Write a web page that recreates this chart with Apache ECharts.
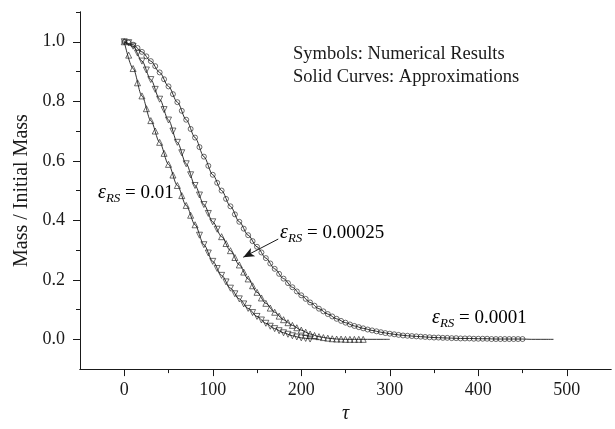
<!DOCTYPE html>
<html><head><meta charset="utf-8">
<script src="https://cdn.jsdelivr.net/npm/echarts@6/dist/echarts.min.js"></script>
<style>html,body{margin:0;padding:0;background:#fff}#c{width:615px;height:429px}</style>
</head><body><div id="c"></div>
<script>
// ---- data ----
const tauSym = [0,5,10,15,20,25,30,35,40,45,50,55,60,65,70,75,80,85,90,95,100,105,110,115,120,125,130,135,140,145,150,155,160,165,170,175,180,185,190,195,200,205,210,215,220,225,230,235,240,245,250,255,260,265,270,275,280,285,290,295,300,305,310,315,320,325,330,335,340,345,350,355,360,365,370,375,380,385,390,395,400,405,410,415,420,425,430,435,440,445,450];
// numerical results, eps_RS = 0.01 (triangles)
const symA = [1.0,0.955,0.91,0.862,0.818,0.775,0.735,0.7,0.662,0.625,0.588,0.552,0.517,0.483,0.45,0.417,0.385,0.35,0.318,0.29,0.262,0.238,0.215,0.193,0.172,0.153,0.136,0.119,0.104,0.09,0.077,0.065,0.054,0.044,0.036,0.029,0.022,0.017,0.012,0.008,0.005,0.003,0.001];
// numerical results, eps_RS = 0.00025 (triangles)
const symB = [1.0,0.997,0.985,0.962,0.935,0.905,0.873,0.84,0.807,0.772,0.737,0.7,0.662,0.627,0.59,0.553,0.517,0.485,0.453,0.423,0.395,0.37,0.345,0.322,0.298,0.275,0.25,0.226,0.203,0.18,0.158,0.139,0.121,0.105,0.091,0.078,0.066,0.056,0.047,0.039,0.031,0.024,0.018,0.013,0.009,0.006,0.004,0.002,0.001,0.001,0,0,0,0,0];
// numerical results, eps_RS = 0.0001 (circles)
const symC = [1.0,0.997,0.99,0.979,0.966,0.951,0.935,0.918,0.897,0.874,0.85,0.824,0.797,0.768,0.738,0.707,0.678,0.646,0.614,0.583,0.553,0.526,0.5,0.472,0.447,0.42,0.395,0.372,0.35,0.33,0.311,0.292,0.273,0.255,0.237,0.22,0.204,0.189,0.175,0.161,0.148,0.136,0.124,0.113,0.103,0.094,0.085,0.077,0.069,0.062,0.056,0.05,0.045,0.041,0.037,0.033,0.03,0.027,0.024,0.021,0.019,0.017,0.015,0.013,0.012,0.011,0.01,0.009,0.008,0.007,0.006,0.006,0.005,0.005,0.004,0.004,0.003,0.003,0.003,0.002,0.002,0.002,0.002,0.001,0.001,0.001,0.001,0.001,0.001,0.001,0.001];
// approximation curves
const tauLine = [0,10,20,30,40,50,60,70,80,90,100,110,120,130,140,150,160,170,180,190,200,210,220,230,240,250,260,270,280,290,300,310,320,330,340,350,360,370,380,390,400,410,420,430,440,450,460,470,485];
const lineA = [1.0,0.91,0.818,0.735,0.662,0.588,0.517,0.45,0.385,0.318,0.262,0.215,0.172,0.136,0.104,0.077,0.054,0.036,0.022,0.012,0.005,0.002,0.0];
const lineB = [1.0,0.985,0.935,0.873,0.807,0.737,0.662,0.59,0.517,0.453,0.395,0.345,0.298,0.25,0.203,0.158,0.121,0.091,0.066,0.047,0.031,0.018,0.009,0.004,0.001,0,0,0,0,0,0];
const lineC = [1.0,0.99,0.966,0.935,0.897,0.85,0.797,0.738,0.678,0.614,0.553,0.5,0.447,0.395,0.35,0.311,0.273,0.237,0.204,0.175,0.148,0.124,0.103,0.085,0.069,0.056,0.045,0.037,0.03,0.024,0.019,0.015,0.012,0.01,0.008,0.006,0.005,0.004,0.003,0.003,0.002,0.002,0.001,0.001,0.001,0.001,0,0,0];
// axis ticks
const xMajor = [0,100,200,300,400,500];
const xMinor = [50,150,250,350,450];
const yMajor = [0,0.2,0.4,0.6,0.8,1.0];
const yMinor = [0.1,0.3,0.5,0.7,0.9,1.1];
// arrow (data coords): tail -> tip
const arrowTail = [174, 0.337];
const arrowTip = [134.5, 0.276];

// ---- drawing ----
const FONT = '"Liberation Serif", "Times New Roman", serif';
const INK = '#1a1a1a';
function pairs(t, v){ return v.map((y,i)=>[t[i], y]); }
function triItems(t, v, upHigh){
  return v.map((y,i)=>({value:[t[i], y], symbolRotate: ((y > 0.35) === upHigh) ? 0 : 180}));
}
const chart = echarts.init(document.getElementById('c'), null, {renderer:'canvas'});
const baseLabel = {fontFamily: FONT, fontSize: 18, color: INK};
function xAx(ticks, len, labels){
  return {type:'value', min:-50, max:550, interval:50, position:'bottom', gridIndex:0,
    axisLine:{show:true, onZero:false, lineStyle:{color:INK, width:1}},
    axisTick:{show:true, customValues:ticks, length:len, lineStyle:{color:INK, width:1}},
    axisLabel:labels ? Object.assign({customValues:ticks, margin:12, formatter:v=>String(v)}, baseLabel) : {show:false},
    splitLine:{show:false}};
}
function yAx(ticks, len, labels){
  return {type:'value', min:-0.1, max:1.1, interval:0.1, position:'left', gridIndex:0,
    axisLine:{show:true, onZero:false, lineStyle:{color:INK, width:1}},
    axisTick:{show:true, customValues:ticks, length:len, lineStyle:{color:INK, width:1}},
    axisLabel:labels ? Object.assign({customValues:ticks, margin:15, formatter:v=>v.toFixed(1)}, baseLabel) : {show:false},
    splitLine:{show:false}};
}
const xMain = xAx(xMajor, 7, true);
xMain.name = 'τ'; xMain.nameLocation = 'middle'; xMain.nameGap = 30;
xMain.nameTextStyle = {fontFamily: FONT, fontSize: 20, fontStyle:'italic', color: INK};
const yMain = yAx(yMajor, 7, true);
yMain.name = 'Mass / Initial Mass'; yMain.nameLocation = 'middle'; yMain.nameGap = 47;
yMain.nameTextStyle = {fontFamily: FONT, fontSize: 20, color: INK};

const lineStyle = {color: INK, width: 0.9};
const mk = {color:'rgba(0,0,0,0)', borderColor: INK, borderWidth: 0.8};
function lineSeries(t, v, extra){
  return Object.assign({type:'line', data: pairs(t, v), showSymbol:false, symbol:'none',
    smooth:0.3, smoothMonotone:'x', lineStyle: lineStyle, silent:true, z:2}, extra||{});
}
const rich = {
  e:{fontFamily:FONT, fontSize:20, fontStyle:'italic', color:INK},
  s:{fontFamily:FONT, fontSize:13, fontStyle:'italic', color:INK, padding:[11,0,0,0]},
  n:{fontFamily:FONT, fontSize:19, color:INK}
};
function epsLabel(x, y, val){
  return {type:'text', x:x, y:y, silent:true,
    style:{text:'{e|ε}{s|RS}{n| = ' + val + '}', rich:rich, align:'left', verticalAlign:'middle'}};
}
chart.setOption({
  animation:false,
  backgroundColor:'#fff',
  grid:{left:80, right:4, top:12, bottom:55, containLabel:false},
  xAxis:[xMain, xAx(xMinor, 4, false)],
  yAxis:[yMain, yAx(yMinor, 4, false)],
  series:[
    lineSeries(tauLine, lineA),
    lineSeries(tauLine, lineB, {markLine:{silent:true, symbol:['none','arrow'], symbolSize:[7,11],
      lineStyle:{color:INK, width:1, type:'solid'}, label:{show:false},
      data:[[{coord:arrowTail},{coord:arrowTip}]]}}),
    lineSeries(tauLine, lineC),
    {type:'scatter', data: triItems(tauSym, symA, true), symbol:'triangle', symbolSize:6, itemStyle:mk, z:3, silent:true},
    {type:'scatter', data: triItems(tauSym, symB, false), symbol:'triangle', symbolSize:6, itemStyle:mk, z:3, silent:true},
    {type:'scatter', data: pairs(tauSym, symC), symbol:'circle', symbolSize:5, itemStyle:mk, z:3, silent:true}
  ],
  graphic:[
    {type:'text', x:293, y:54, silent:true, style:{text:'Symbols: Numerical Results', font:'18.5px ' + FONT, fill:INK, align:'left', verticalAlign:'middle'}},
    {type:'text', x:293, y:77, silent:true, style:{text:'Solid Curves: Approximations', font:'18.5px ' + FONT, fill:INK, align:'left', verticalAlign:'middle'}},
    epsLabel(98, 193, '0.01'),
    epsLabel(280, 233, '0.00025'),
    epsLabel(432, 318, '0.0001')
  ]
});
</script></body></html>
